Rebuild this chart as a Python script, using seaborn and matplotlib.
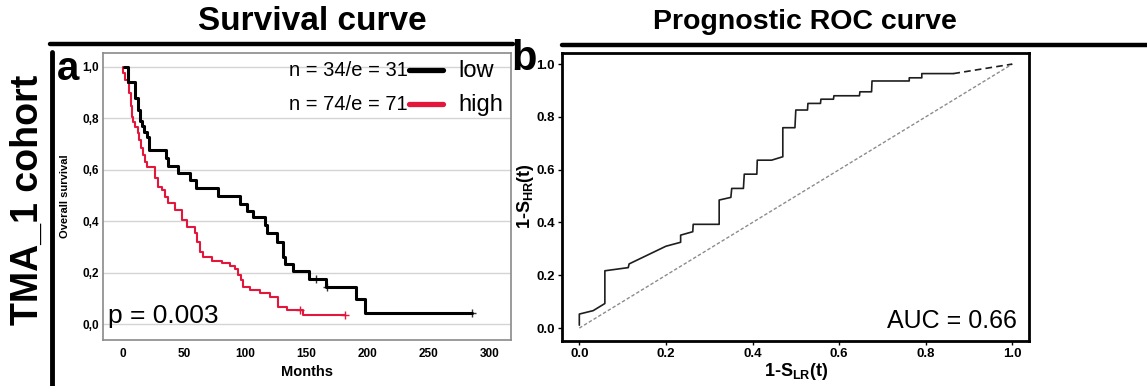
import matplotlib
matplotlib.use("Agg")
import matplotlib.pyplot as plt
import matplotlib.font_manager as fm
from matplotlib.lines import Line2D
import seaborn as sns
import numpy as np

# ---------------- data ----------------
low_months = [1, 4.3, 9.8, 12, 13.6, 15.3, 17.4, 19.3, 21, 35, 36.5, 44.7, 54.8, 59.4, 78, 96,
              101, 106.6, 116, 117.5, 125.7, 130.6, 132.5, 138.7, 152, 166, 190.5, 198, 285]
low_surv = [1.0, 0.943, 0.878, 0.833, 0.79, 0.77, 0.745, 0.726, 0.677, 0.645, 0.615, 0.586, 0.56,
            0.528, 0.498, 0.467, 0.441, 0.415, 0.385, 0.353, 0.32, 0.262, 0.233, 0.207, 0.174,
            0.143, 0.096, 0.044, 0.044]
low_cens_months = [158, 167, 285]
low_cens_surv = [0.174, 0.143, 0.044]

high_months = [0, 0.3, 1.6, 3.8, 4.9, 6.5, 7.1, 8.4, 9.8, 12, 13, 14.7, 16.6, 18, 19.4, 26.2, 28.9,
               31.6, 34.3, 37, 42.5, 48, 52, 59, 60.5, 63, 65.7, 72.5, 80.7, 87.5, 91.5, 94.3,
               96.3, 98, 104, 112, 120, 127, 134, 147.5, 181.5]
high_surv = [1.0, 0.975, 0.95, 0.937, 0.898, 0.846, 0.807, 0.787, 0.768, 0.742, 0.716, 0.684,
             0.658, 0.632, 0.61, 0.567, 0.534, 0.521, 0.495, 0.47, 0.444, 0.405, 0.379, 0.353,
             0.32, 0.281, 0.26, 0.246, 0.236, 0.226, 0.213, 0.19, 0.171, 0.145, 0.132, 0.119,
             0.106, 0.065, 0.054, 0.035, 0.035]
high_cens_months = [145, 181.5]
high_cens_surv = [0.054, 0.035]

surv_xticks = [0, 50, 100, 150, 200, 250, 300]
surv_yticks = [0.0, 0.2, 0.4, 0.6, 0.8, 1.0]
surv_yticklabels = ["0,0", "0,2", "0,4", "0,6", "0,8", "1,0"]

roc_x = [0, 0, 0.032, 0.059, 0.059, 0.113, 0.115, 0.2, 0.234, 0.234, 0.262, 0.263, 0.323, 0.323,
         0.35, 0.352, 0.379, 0.381, 0.41, 0.411, 0.444, 0.47, 0.47, 0.498, 0.5, 0.527, 0.528,
         0.557, 0.558, 0.587, 0.588, 0.647, 0.648, 0.675, 0.676, 0.762, 0.762, 0.791, 0.791, 0.864]
roc_y = [0.011, 0.053, 0.066, 0.093, 0.217, 0.229, 0.243, 0.31, 0.325, 0.352, 0.365, 0.393, 0.393,
         0.485, 0.495, 0.529, 0.529, 0.583, 0.583, 0.636, 0.636, 0.649, 0.759, 0.759, 0.826, 0.826,
         0.851, 0.851, 0.867, 0.867, 0.88, 0.88, 0.895, 0.895, 0.936, 0.936, 0.948, 0.948, 0.964, 0.964]
roc_ext_x = [0.864, 1.0]
roc_ext_y = [0.964, 1.0]
diag = [0.0, 1.0]
roc_ticks = [0.0, 0.2, 0.4, 0.6, 0.8, 1.0]

RED = "#e3173c"

# ---------------- style ----------------
sns.set_theme(style="white")
names = {f.name for f in fm.fontManager.ttflist}
BASE = "Liberation Sans" if "Liberation Sans" in names else "DejaVu Sans"
plt.rcParams["font.family"] = [BASE, "DejaVu Sans"]
plt.rcParams["mathtext.fontset"] = "custom"
plt.rcParams["mathtext.rm"] = BASE + ":bold"
plt.rcParams["mathtext.bf"] = BASE + ":bold"
plt.rcParams["mathtext.default"] = "bf"
for k in ["text.color", "axes.labelcolor", "xtick.color", "ytick.color"]:
    plt.rcParams[k] = "black"

W, H = 1147, 386
fig = plt.figure(figsize=(W / 100, H / 100), dpi=100)


def fx(px):
    return px / W


def fy(py):
    return 1 - py / H


# ---------------- left: survival ----------------
axL = fig.add_axes([fx(103), fy(340), fx(511 - 103), (340 - 53) / H])
sns.lineplot(x=high_months, y=high_surv, ax=axL, sort=False, estimator=None,
             drawstyle="steps-post", color=RED, lw=1.5)
sns.lineplot(x=low_months, y=low_surv, ax=axL, sort=False, estimator=None,
             drawstyle="steps-post", color="black", lw=2.2)
sns.scatterplot(x=high_cens_months, y=high_cens_surv, ax=axL, marker="+", color=RED,
                s=30, linewidth=1.0)
sns.scatterplot(x=low_cens_months, y=low_cens_surv, ax=axL, marker="+", color="#333333",
                s=30, linewidth=1.0)
axL.set_xlim(-16.3, 317.2)
axL.set_ylim(-0.062, 1.054)
axL.set_xticks(surv_xticks)
axL.set_xticklabels([str(t) for t in surv_xticks], fontsize=8.5, fontweight="bold")
axL.set_yticks(surv_yticks)
axL.set_yticklabels(surv_yticklabels, fontsize=8.5, fontweight="bold")
axL.tick_params(axis="y", length=0, pad=3)
axL.tick_params(axis="x", length=0, pad=6)
axL.grid(axis="y", color="#d4d4d4", lw=1.0)
axL.set_axisbelow(True)
for s in axL.spines.values():
    s.set_color("#8a8a8a")
    s.set_linewidth(1.2)
axL.set_xlabel("")
axL.set_ylabel("")
fig.text(fx(65), fy(196), "Overall survival", rotation=90, ha="center", va="center",
         fontsize=8, fontweight="bold")
fig.text(fx(307), fy(372), "Months", ha="center", va="center", fontsize=10.5, fontweight="bold")
axL.text(0.012, 0.06, "p = 0.003", transform=axL.transAxes, fontsize=19, ha="left",
         va="baseline")

# legend-like annotations
fig.text(fx(408), fy(76), "n = 34/e = 31", ha="right", va="baseline", fontsize=14.5)
fig.text(fx(408), fy(110), "n = 74/e = 71", ha="right", va="baseline", fontsize=14.5)
fig.add_artist(Line2D([fx(409), fx(443)], [fy(70), fy(70)], color="black", lw=3.8,
                      transform=fig.transFigure))
fig.add_artist(Line2D([fx(409), fx(443)], [fy(104), fy(104)], color=RED, lw=3.8,
                      transform=fig.transFigure))
fig.text(fx(458), fy(77), "low", ha="left", va="baseline", fontsize=17)
fig.text(fx(458), fy(111), "high", ha="left", va="baseline", fontsize=17)

# ---------------- right: ROC ----------------
axR = fig.add_axes([fx(562), fy(341), fx(1029 - 562), (341 - 53) / H])
sns.lineplot(x=diag, y=diag, ax=axR, sort=False, estimator=None, color="#8c8c8c",
             lw=1.0, linestyle=(0, (2.5, 1.5)))
sns.lineplot(x=roc_x, y=roc_y, ax=axR, sort=False, estimator=None, color="#1e1e1e", lw=1.2)
sns.lineplot(x=roc_ext_x, y=roc_ext_y, ax=axR, sort=False, estimator=None, color="#1e1e1e",
             lw=1.2, linestyle=(0, (4, 2.5)))
axR.set_xlim(-0.04, 1.0386)
axR.set_ylim(-0.049, 1.042)
axR.set_xticks(roc_ticks)
axR.set_yticks(roc_ticks)
axR.set_xticklabels([f"{t:.1f}" for t in roc_ticks], fontsize=9.5, fontweight="bold")
axR.set_yticklabels([f"{t:.1f}" for t in roc_ticks], fontsize=9.5, fontweight="bold")
axR.tick_params(length=3, width=1, color="black", pad=2, bottom=True, left=True)
for s in axR.spines.values():
    s.set_color("black")
    s.set_linewidth(2.0)
axR.set_xlabel("")
axR.set_ylabel("")
fig.text(fx(796), fy(372), r"1-S$_{LR}$(t)", ha="center", va="center", fontsize=13,
         fontweight="bold")
fig.text(fx(526), fy(196), r"1-S$_{HR}$(t)", ha="center", va="center", fontsize=13,
         fontweight="bold", rotation=90)
axR.text(0.975, 0.045, "AUC = 0.66", transform=axR.transAxes, fontsize=18, ha="right",
         va="baseline")

# ---------------- headers and decorations ----------------
fig.text(fx(312), fy(22), "Survival curve", ha="center", va="center", fontsize=24,
         fontweight="bold")
fig.text(fx(805), fy(22), "Prognostic ROC curve", ha="center", va="center", fontsize=20.5,
         fontweight="bold")
fig.add_artist(Line2D([fx(50), fx(513)], [fy(44), fy(44)], color="black", lw=3.2,
                      transform=fig.transFigure))
fig.add_artist(Line2D([fx(562), fx(1147)], [fy(45), fy(45)], color="black", lw=3.2,
                      transform=fig.transFigure))
fig.add_artist(Line2D([fx(52), fx(52)], [fy(52), fy(386)], color="black", lw=3.5,
                      transform=fig.transFigure))
fig.text(fx(28), fy(200), "TMA_1 cohort", rotation=90, ha="center", va="center",
         fontsize=27, fontweight="bold")
fig.text(fx(57), fy(80), "a", ha="left", va="baseline", fontsize=29, fontweight="bold")
fig.text(fx(511), fy(70), "b", ha="left", va="baseline", fontsize=30, fontweight="bold")

fig.savefig("out.png", dpi=100)
